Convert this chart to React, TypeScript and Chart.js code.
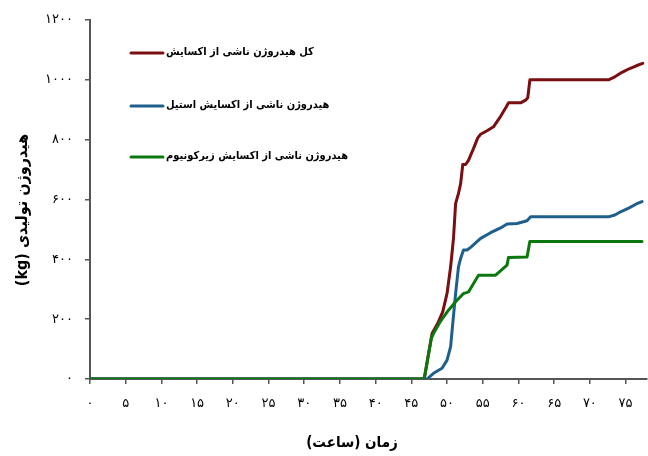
import React, { useEffect, useRef } from 'react';
import { Chart, registerables } from 'chart.js';

Chart.register(...registerables);

// ---- data ----
const seriesNames = [
  'کل هیدروژن ناشی از اکسایش',
  'هیدروژن ناشی از اکسایش استیل',
  'هیدروژن ناشی از اکسایش زیرکونیوم',
];
const seriesColors = ['#7A0E10', '#1F5F8C', '#0B770F'];

const totalTime = [0, 46.8, 47.5, 47.9, 48.7, 49.4, 50.0, 50.5, 50.9, 51.2, 51.6, 51.9, 52.2, 52.6, 53.0, 53.7, 54.3, 54.7, 55.6, 56.5, 57.5, 58.3, 58.6, 60.3, 61.0, 61.3, 61.6, 72.6, 73.5, 74.5, 75.5, 76.5, 77.4];
const totalValue = [0, 0, 97, 152, 186, 225, 286, 375, 470, 587, 620, 653, 717, 717, 731, 770, 806, 818, 830, 843, 878, 910, 923, 923, 932, 940, 1000, 1000, 1010, 1025, 1037, 1047, 1055];

const steelTime = [0, 47.2, 48.1, 49.3, 50.0, 50.5, 50.8, 51.2, 51.6, 51.9, 52.3, 52.8, 53.3, 54.0, 54.7, 56.1, 57.5, 58.4, 59.8, 61.2, 61.7, 72.6, 73.5, 74.3, 75.5, 76.5, 77.3];
const steelValue = [0, 0, 19, 36, 63, 108, 186, 286, 375, 403, 431, 431, 440, 455, 470, 489, 505, 518, 520, 529, 542, 542, 548, 559, 572, 585, 593];

const zircTime = [0, 46.8, 47.8, 48.1, 49.0, 50.2, 51.2, 52.3, 52.6, 53.0, 54.4, 56.8, 58.4, 58.6, 61.2, 61.6, 77.3];
const zircValue = [0, 0, 136, 152, 190, 230, 258, 286, 288, 291, 347, 347, 381, 406, 408, 460, 460];

const xTickLabels = ['۰', '۵', '۱۰', '۱۵', '۲۰', '۲۵', '۳۰', '۳۵', '۴۰', '۴۵', '۵۰', '۵۵', '۶۰', '۶۵', '۷۰', '۷۵'];
const yTickLabels = ['۰', '۲۰۰', '۴۰۰', '۶۰۰', '۸۰۰', '۱۰۰۰', '۱۲۰۰'];
const xTitle = 'زمان (ساعت)';
const yTitle = 'هیدروژن تولیدی (kg)';

const X_MAX = 78;
const Y_MAX = 1200;
const X_STEP = 5;
const Y_STEP = 200;

const FONT = '"DejaVu Sans", sans-serif';
const FONT_C = '"DejaVu Sans Condensed", "DejaVu Sans", sans-serif';

const toPoints = (t: number[], v: number[]) => t.map((x, i) => ({ x, y: v[i] }));

const overlayPlugin = {
  id: 'overlay',
  afterDraw(chart: any) {
    const ctx = chart.ctx as CanvasRenderingContext2D;
    const area = chart.chartArea;
    ctx.save();
    ctx.fillStyle = '#000';
    ctx.direction = 'rtl';
    // y title
    ctx.save();
    ctx.font = `bold 16px ${FONT_C}`;
    ctx.translate(23, 210);
    ctx.rotate(-Math.PI / 2);
    ctx.textAlign = 'center';
    ctx.textBaseline = 'middle';
    ctx.fillText(yTitle, 0, 0);
    ctx.restore();
    // x title
    ctx.font = `bold 15px ${FONT_C}`;
    ctx.textAlign = 'center';
    ctx.textBaseline = 'middle';
    ctx.fillText(xTitle, 352, 443);
    // legend
    const rowsY = [area.top + 33, area.top + 86, area.top + 137];
    seriesNames.forEach((name, i) => {
      const y = rowsY[i];
      ctx.strokeStyle = seriesColors[i];
      ctx.lineWidth = 3;
      ctx.lineCap = 'round';
      ctx.beginPath();
      ctx.moveTo(area.left + 41, y);
      ctx.lineTo(area.left + 73, y);
      ctx.stroke();
      ctx.font = `bold 11px ${FONT_C}`;
      ctx.textAlign = 'left';
      ctx.direction = 'rtl';
      ctx.textBaseline = 'middle';
      ctx.fillStyle = '#000';
      ctx.fillText(name, area.left + 76, y - 1);
    });
    ctx.restore();
  },
};

export default function App() {
  const ref = useRef<HTMLCanvasElement>(null);
  useEffect(() => {
    if (!ref.current) return;
    const lineStyle = {
      borderWidth: 3,
      pointRadius: 0,
      tension: 0,
      fill: false,
      borderCapStyle: 'round' as const,
      borderJoinStyle: 'round' as const,
    };
    const chart = new Chart(ref.current, {
      type: 'line',
      data: {
        datasets: [
          { label: seriesNames[0], data: toPoints(totalTime, totalValue), borderColor: seriesColors[0], backgroundColor: seriesColors[0], order: 2, ...lineStyle },
          { label: seriesNames[1], data: toPoints(steelTime, steelValue), borderColor: seriesColors[1], backgroundColor: seriesColors[1], order: 1, ...lineStyle },
          { label: seriesNames[2], data: toPoints(zircTime, zircValue), borderColor: seriesColors[2], backgroundColor: seriesColors[2], order: 0, ...lineStyle },
        ],
      },
      options: {
        responsive: false,
        animation: false,
        layout: { padding: { top: 20, right: 1, left: 0, bottom: 0 } },
        plugins: { legend: { display: false }, tooltip: { enabled: false } },
        scales: {
          x: {
            type: 'linear',
            min: 0,
            max: X_MAX,
            afterFit: (s: any) => { s.height = 77; },
            ticks: {
              stepSize: X_STEP,
              includeBounds: false,
              autoSkip: false,
              maxRotation: 0,
              padding: 12,
              color: '#000',
              font: { family: FONT, size: 13 },
              callback: (v: any) => xTickLabels[Math.round(Number(v) / X_STEP)] ?? '',
            },
            grid: { drawOnChartArea: false, drawTicks: true, tickLength: 5, color: '#555', lineWidth: 1.5 },
            border: { color: '#555', width: 2 },
          },
          y: {
            type: 'linear',
            min: 0,
            max: Y_MAX,
            afterFit: (s: any) => { s.width = 90; },
            ticks: {
              stepSize: Y_STEP,
              padding: 12,
              color: '#000',
              font: { family: FONT, size: 13 },
              callback: (v: any) => yTickLabels[Math.round(Number(v) / Y_STEP)] ?? '',
            },
            grid: { drawOnChartArea: false, drawTicks: true, tickLength: 5, color: '#555', lineWidth: 1.5 },
            border: { color: '#555', width: 2 },
          },
        },
      },
      plugins: [overlayPlugin],
    });
    return () => chart.destroy();
  }, []);
  return (
    <div style={{ position: 'fixed', left: 0, top: 0, width: 648, height: 456, background: '#fff' }}>
      <canvas ref={ref} width={648} height={456} style={{ width: 648, height: 456 }} />
    </div>
  );
}
